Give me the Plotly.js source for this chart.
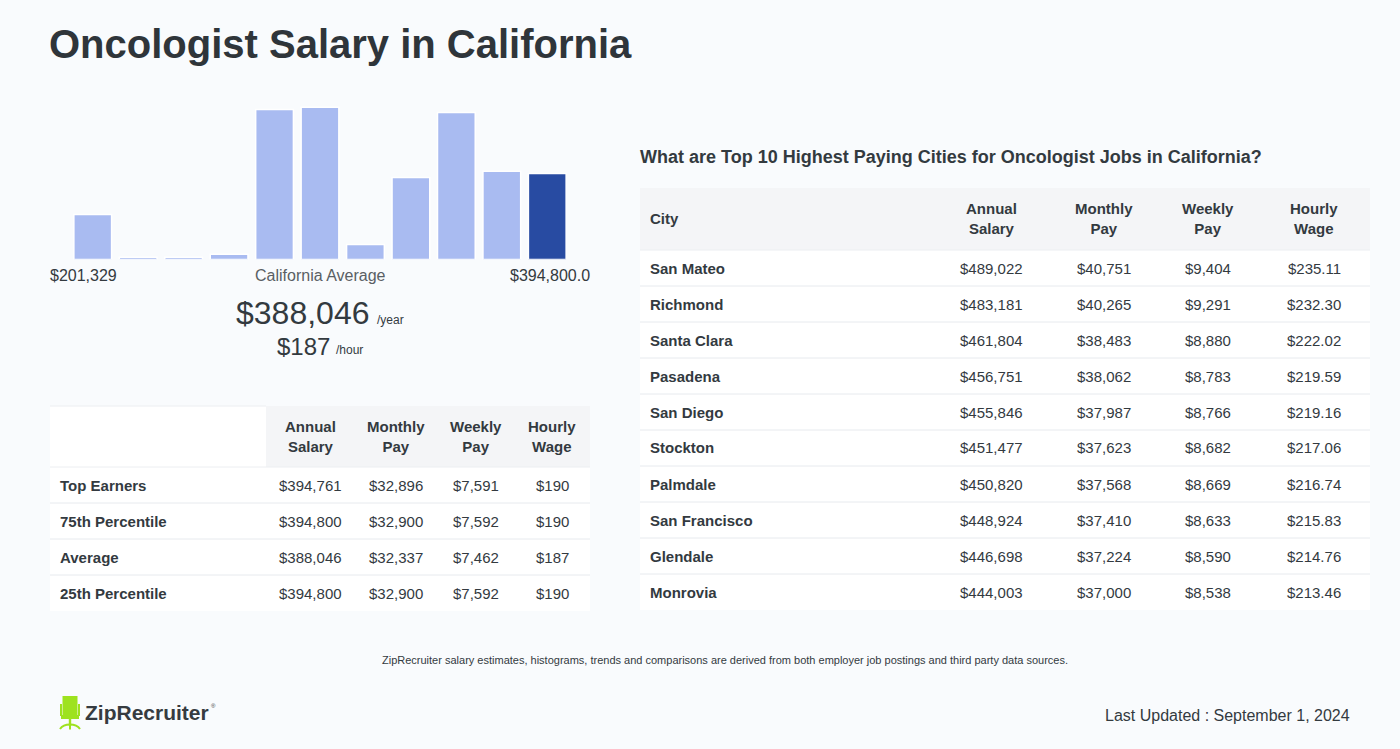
<!DOCTYPE html>
<html>
<head>
<meta charset="utf-8">
<script src="https://cdn.plot.ly/plotly-3.0.1.min.js"></script>
<style>
html,body{margin:0;padding:0;background:#f9fbfd;}
#chart{width:1400px;height:749px;}
</style>
</head>
<body>
<div id="chart"></div>
<script>
// ---------- DATA ----------
const histBins = ["b1","b2","b3","b4","b5","b6","b7","b8","b9","b10","b11"];
const histCounts = [45, 2.3, 2.3, 5.3, 150, 152.3, 15, 82, 147, 88.3, 86];
const histHighlight = 10; // index of the bin containing the average

const rangeLow = "$201,329";
const rangeHigh = "$394,800.0";
const avgLabel = "California Average";
const avgYear = "$388,046";
const avgHour = "$187";

const pctLabels = ["Top Earners", "75th Percentile", "Average", "25th Percentile"];
const pctAnnual = [394761, 394800, 388046, 394800];
const pctMonthly = [32896, 32900, 32337, 32900];
const pctWeekly = [7591, 7592, 7462, 7592];
const pctHourly = [190, 190, 187, 190];

const headers = ["Annual<br>Salary", "Monthly<br>Pay", "Weekly<br>Pay", "Hourly<br>Wage"];

const cities = ["San Mateo","Richmond","Santa Clara","Pasadena","San Diego","Stockton","Palmdale","San Francisco","Glendale","Monrovia"];
const cityAnnual = [489022, 483181, 461804, 456751, 455846, 451477, 450820, 448924, 446698, 444003];
const cityMonthly = [40751, 40265, 38483, 38062, 37987, 37623, 37568, 37410, 37224, 37000];
const cityWeekly = [9404, 9291, 8880, 8783, 8766, 8682, 8669, 8633, 8590, 8538];
const cityHourly = [235.11, 232.30, 222.02, 219.59, 219.16, 217.06, 216.74, 215.83, 214.76, 213.46];

const titleText = "Oncologist Salary in California";
const citiesTitle = "What are Top 10 Highest Paying Cities for Oncologist Jobs in California?";
const footNote = "ZipRecruiter salary estimates, histograms, trends and comparisons are derived from both employer job postings and third party data sources.";
const updated = "Last Updated : September 1, 2024";

// ---------- HELPERS ----------
const W = 1400, H = 749;
const px = x => x / W;
const py = y => 1 - y / H;
const FONT = "Liberation Sans, Arial, Helvetica, sans-serif";
const TXT = "#333a3f";
const money = v => "$" + v.toLocaleString("en-US");
const money2 = v => "$" + v.toLocaleString("en-US", {minimumFractionDigits: 2, maximumFractionDigits: 2});

const annotations = [];
const shapes = [];
function txt(x, y, text, size, opts) {
  opts = opts || {};
  const xa = opts.xanchor || "center";
  // compensate the annotation box padding so text edges land on x
  const dx = xa === "left" ? -2 : (xa === "right" ? 2 : 0);
  annotations.push({
    xref: "paper", yref: "paper", x: px(x + dx), y: py(y),
    text: text, showarrow: false,
    xanchor: xa, yanchor: opts.yanchor || "middle",
    align: opts.align || "center",
    font: {family: FONT, size: size, color: opts.color || TXT, weight: opts.bold ? 700 : 400}
  });
}
function rect(x0, y0, x1, y1, fill, layer) {
  shapes.push({type: "rect", xref: "paper", yref: "paper",
    x0: px(x0), x1: px(x1), y0: py(y1), y1: py(y0),
    fillcolor: fill, line: {width: 0}, layer: layer || "below"});
}
function hline(x0, x1, y, color) {
  shapes.push({type: "line", xref: "paper", yref: "paper",
    x0: px(x0), x1: px(x1), y0: py(y), y1: py(y),
    line: {color: color || "#e7eaee", width: 1}, layer: "below"});
}

// ---------- HISTOGRAM LABELS ----------
txt(50, 275.5, rangeLow, 16, {xanchor: "left"});
txt(320, 275.5, avgLabel, 16, {color: "#5a5f64"});
txt(590, 275.5, rangeHigh, 16, {xanchor: "right"});
txt(302, 313, avgYear, 32, {});
txt(377, 320, "/year", 12, {xanchor: "left"});
txt(303, 346, avgHour, 24, {});
txt(336, 350, "/hour", 12, {xanchor: "left"});

// ---------- LEFT TABLE ----------
const lColX = [310, 396, 476, 552];
const lHeadTop = 406, lHeadBot = 467, lRowH = 36;
rect(266, lHeadTop, 590, lHeadBot, "#f4f5f7");
rect(50, lHeadTop, 266, lHeadBot, "#ffffff");
rect(50, lHeadBot, 590, lHeadBot + lRowH * pctLabels.length, "#ffffff");
hline(50, 266, lHeadTop, "#eceef1");
headers.forEach((h, i) => txt(lColX[i], (lHeadTop + lHeadBot) / 2 - 0.5, h, 15, {bold: true}));
pctLabels.forEach((lab, r) => {
  const yc = lHeadBot + lRowH * r + lRowH / 2;
  if (r > 0) hline(50, 590, lHeadBot + lRowH * r);
  txt(60, yc, lab, 15, {xanchor: "left", bold: true});
  const vals = [money(pctAnnual[r]), money(pctMonthly[r]), money(pctWeekly[r]), money(pctHourly[r])];
  vals.forEach((v, i) => txt(lColX[i], yc, v, 15, {}));
});
hline(50, 590, lHeadBot, "#eceef1");

// ---------- RIGHT TABLE ----------
txt(640, 157, citiesTitle, 18, {xanchor: "left", bold: true});
const rColX = [991, 1104, 1208, 1314];
const rHeadTop = 188, rHeadBot = 250, rRowH = 36;
rect(640, rHeadTop, 1370, rHeadBot, "#f4f5f7");
rect(640, rHeadBot, 1370, rHeadBot + rRowH * cities.length, "#ffffff");
txt(650, (rHeadTop + rHeadBot) / 2, "City", 15, {xanchor: "left", bold: true});
headers.forEach((h, i) => txt(rColX[i], (rHeadTop + rHeadBot) / 2 - 0.5, h, 15, {bold: true}));
hline(640, 1370, rHeadBot, "#eceef1");
cities.forEach((c, r) => {
  const yc = rHeadBot + rRowH * r + rRowH / 2;
  if (r > 0) hline(640, 1370, rHeadBot + rRowH * r);
  txt(650, yc, c, 15, {xanchor: "left", bold: true});
  const vals = [money(cityAnnual[r]), money(cityMonthly[r]), money(cityWeekly[r]), money2(cityHourly[r])];
  vals.forEach((v, i) => txt(rColX[i], yc, v, 15, {}));
});

// ---------- FOOTER ----------
txt(725, 660, footNote, 11, {});
txt(1350, 715, updated, 16, {xanchor: "right"});

// Logo: chair icon
const G = "#9ee21f";
function prect(x0, y0, x1, y1, fill) {
  shapes.push({type: "rect", xref: "paper", yref: "paper",
    x0: px(x0), x1: px(x1), y0: py(y1), y1: py(y0),
    fillcolor: fill, line: {width: 0}, layer: "above"});
}
prect(62.5, 696, 77.5, 715, G);   // back
prect(60, 704, 62, 716, G);       // left arm
prect(78, 704, 80, 716, G);       // right arm
prect(61, 715, 79, 719, G);       // seat
prect(68.8, 719, 71.2, 726, G);   // stem
shapes.push({type: "path", xref: "paper", yref: "paper",
  path: `M ${px(60)} ${py(729)} Q ${px(63)} ${py(724.5)} ${px(70)} ${py(724.5)} Q ${px(77)} ${py(724.5)} ${px(80)} ${py(729)}`,
  line: {color: G, width: 2}, layer: "above"});
shapes.push({type: "line", xref: "paper", yref: "paper",
  x0: px(70), x1: px(70), y0: py(724), y1: py(729.5), line: {color: G, width: 2}, layer: "above"});
txt(85, 712.5, "ZipRecruiter", 21, {xanchor: "left", bold: true, color: "#363b40"});
txt(211, 706, "®", 6, {xanchor: "left", color: "#363b40"});

// ---------- FIGURE ----------
const barColors = histCounts.map((v, i) => i === histHighlight ? "#284ba2" : "#a9bbf1");
const data = [{
  type: "bar",
  x: histBins,
  y: histCounts,
  marker: {color: barColors, line: {color: "#ffffff", width: 1.5}},
  hoverinfo: "skip"
}];

const layout = {
  width: W, height: H,
  margin: {l: 0, r: 0, t: 0, b: 0},
  paper_bgcolor: "#f9fbfd",
  plot_bgcolor: "rgba(0,0,0,0)",
  showlegend: false,
  bargap: 0.17,
  title: {
    text: titleText,
    xref: "paper", yref: "paper",
    x: px(49), xanchor: "left",
    y: py(44), yanchor: "middle",
    font: {family: FONT, size: 40, color: "#2f353a", weight: 700}
  },
  xaxis: {
    domain: [px(70), px(570)],
    type: "category",
    range: [-0.5, 10.5],
    visible: false, fixedrange: true
  },
  yaxis: {
    domain: [py(259.5), py(99.5)],
    range: [0, 160],
    visible: false, fixedrange: true
  },
  shapes: shapes,
  annotations: annotations
};

Plotly.newPlot("chart", data, layout, {displayModeBar: false, staticPlot: true});
</script>
</body>
</html>
